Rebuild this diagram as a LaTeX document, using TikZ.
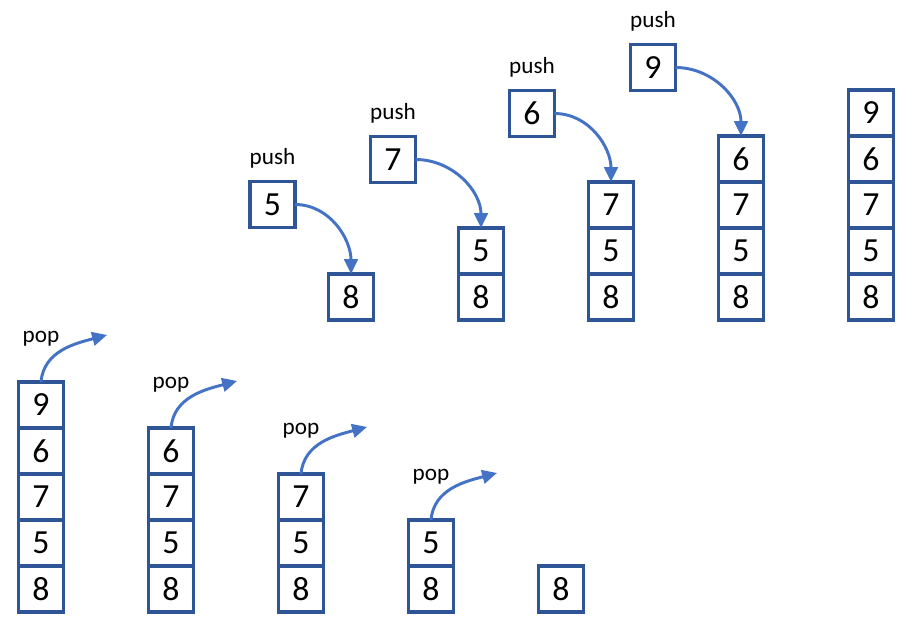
\documentclass[tikz,border=0pt]{standalone}
\usepackage{fontspec}
\setmainfont{Carlito}
\usetikzlibrary{arrows.meta, positioning}
\definecolor{boxblue}{HTML}{2F5597}
\definecolor{arrowblue}{HTML}{4472C4}
\tikzstyle{cell} = [draw=boxblue, line width=2.8pt, minimum width=1.125cm, minimum height=1.15cm, inner sep=0pt, outer sep=0pt, font=\fontsize{24}{28}\selectfont]
\tikzstyle{oplabel} = [inner sep=0pt, font=\fontsize{16.5}{19}\selectfont]
\tikzstyle{arrow} = [draw=arrowblue, line width=2.1pt, -{Triangle[length=0.37cm,width=0.34cm]}]

\begin{document}
\begin{tikzpicture}[x=0.025cm, y=0.025cm]

   \useasboundingbox (0,0) rectangle (914,626);

   % Stacks while pushing
   \node[cell] (s1a) at (351,329) {8};

   \node[cell] (s2a) at (481,329) {8};
   \node[cell, above=0pt of s2a] (s2b) {5};

   \node[cell] (s3a) at (611,329) {8};
   \node[cell, above=0pt of s3a] (s3b) {5};
   \node[cell, above=0pt of s3b] (s3c) {7};

   \node[cell] (s4a) at (741,329) {8};
   \node[cell, above=0pt of s4a] (s4b) {5};
   \node[cell, above=0pt of s4b] (s4c) {7};
   \node[cell, above=0pt of s4c] (s4d) {6};

   \node[cell] (s5a) at (871,329) {8};
   \node[cell, above=0pt of s5a] (s5b) {5};
   \node[cell, above=0pt of s5b] (s5c) {7};
   \node[cell, above=0pt of s5c] (s5d) {6};
   \node[cell, above=0pt of s5d] (s5e) {9};

   % Elements being pushed
   \node[cell] (p5) at (272.5,421.5) {5};
   \node[cell] (p7) at (393,466.5) {7};
   \node[cell] (p6) at (532,512.5) {6};
   \node[cell] (p9) at (653,558.5) {9};

   \node[oplabel, above=0.32cm of p5] (l5) {push};
   \node[oplabel, above=0.32cm of p7] (l7) {push};
   \node[oplabel, above=0.32cm of p6] (l6) {push};
   \node[oplabel, above=0.32cm of p9] (l9) {push};

   \draw[arrow] (p5.east) to[out=0, in=90] (s1a.north);
   \draw[arrow] (p7.east) to[out=0, in=90] (s2b.north);
   \draw[arrow] (p6.east) to[out=0, in=90] (s3c.north);
   \draw[arrow] (p9.east) to[out=0, in=90] (s4d.north);

   % Stacks while popping
   \node[cell] (t1a) at (41,37) {8};
   \node[cell, above=0pt of t1a] (t1b) {5};
   \node[cell, above=0pt of t1b] (t1c) {7};
   \node[cell, above=0pt of t1c] (t1d) {6};
   \node[cell, above=0pt of t1d] (t1e) {9};

   \node[cell] (t2a) at (171,37) {8};
   \node[cell, above=0pt of t2a] (t2b) {5};
   \node[cell, above=0pt of t2b] (t2c) {7};
   \node[cell, above=0pt of t2c] (t2d) {6};

   \node[cell] (t3a) at (301,37) {8};
   \node[cell, above=0pt of t3a] (t3b) {5};
   \node[cell, above=0pt of t3b] (t3c) {7};

   \node[cell] (t4a) at (431,37) {8};
   \node[cell, above=0pt of t4a] (t4b) {5};

   \node[cell] (t5a) at (561,37) {8};

   % Pop labels and arrows
   \node[oplabel, above=0.88cm of t1e] (m1) {pop};
   \node[oplabel, above=0.88cm of t2d] (m2) {pop};
   \node[oplabel, above=0.88cm of t3c] (m3) {pop};
   \node[oplabel, above=0.88cm of t4b] (m4) {pop};

   \coordinate (o1) at (107,291);
   \coordinate (o2) at (237,245);
   \coordinate (o3) at (367,199);
   \coordinate (o4) at (497,153);

   \draw[arrow] (t1e.north) to[out=85, in=195] (o1);
   \draw[arrow] (t2d.north) to[out=85, in=195] (o2);
   \draw[arrow] (t3c.north) to[out=85, in=195] (o3);
   \draw[arrow] (t4b.north) to[out=85, in=195] (o4);

\end{tikzpicture}
\end{document}
